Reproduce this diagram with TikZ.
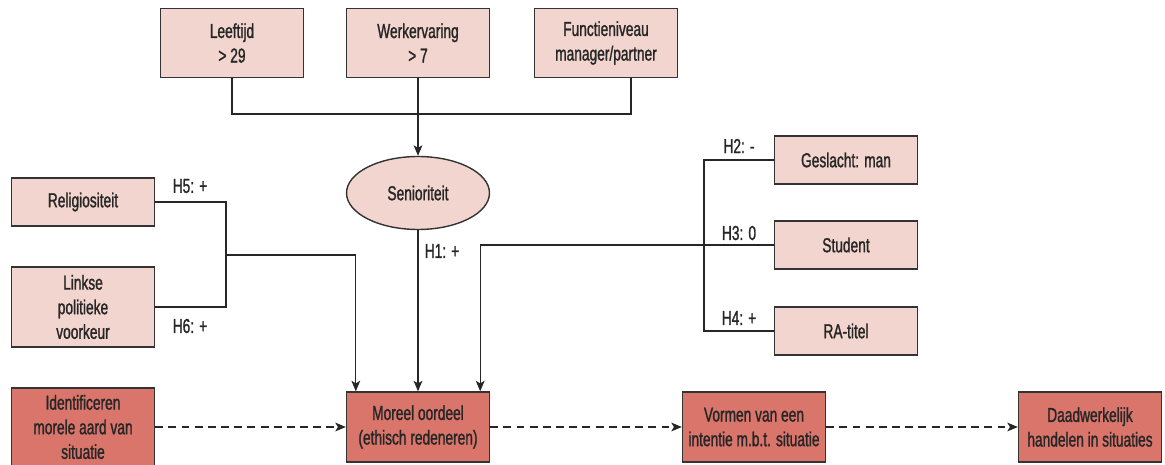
\documentclass[tikz,border=0pt]{standalone}
\usepackage{fontspec}
\setmainfont[FakeStretch=0.68,FakeBold=1.2]{Liberation Sans}
\usetikzlibrary{arrows.meta,shapes.geometric}
\definecolor{lichtrood}{HTML}{F2D5CE}
\definecolor{donkerrood}{HTML}{D9756A}

\begin{document}
\begin{tikzpicture}[x=0.02cm,y=-0.02cm,
	every node/.style={font=\fontsize{11.5}{14}\selectfont,text=black!85},
	kader/.style={draw=black!80,line width=0.8pt,fill=lichtrood,align=center,
		minimum width=2.86cm,inner sep=2pt},
	fase/.style={kader,fill=donkerrood,minimum height=1.4cm},
	lijn/.style={draw=black!85,line width=0.6pt},
	pijl/.style={lijn,-{Stealth[length=6pt,width=5pt,inset=1.5pt]}},
	streep/.style={pijl,dash pattern=on 4.5pt off 3pt}]
\useasboundingbox (0,0) rectangle (1165,465);

% bovenste rij
\node[kader,minimum height=1.38cm] (leeftijd) at (232,43) {Leeftijd\\> 29};
\node[kader,minimum height=1.38cm] (werk) at (418,43) {Werkervaring\\> 7};
\node[kader,minimum height=1.38cm] (functie) at (606,43) {Functieniveau\\manager/partner};
\node[kader,ellipse,minimum height=1.46cm,inner sep=0pt] (senior) at (418,193) {Senioriteit};

% links
\node[kader,minimum height=0.96cm] (relig) at (83,202) {Religiositeit};
\node[kader,minimum height=1.6cm] (links) at (83,307) {Linkse\\politieke\\voorkeur};

% rechts
\node[kader,minimum height=0.96cm] (geslacht) at (846,160) {Geslacht: man};
\node[kader,minimum height=0.96cm] (student) at (846,245) {Student};
\node[kader,minimum height=0.96cm] (ratitel) at (846,331) {RA-titel};

% onderste rij
\node[fase,minimum height=1.56cm] (ident) at (83,427) {Identificeren\\morele aard van\\situatie};
\node[fase] (moreel) at (418,427) {Moreel oordeel\\(ethisch redeneren)};
\node[fase] (intentie) at (754,427) {Vormen van een\\intentie m.b.t. situatie};
\node[fase] (handelen) at (1090,427) {Daadwerkelijk\\handelen in situaties};

\coordinate (knoop1) at (418,114);
\coordinate (knoop2) at (226,255);
\coordinate (knoop3) at (704,245);

\draw[lijn] (leeftijd.south) |- (knoop1) -| ([xshift=0.5cm]functie.south);
\draw[pijl] (werk) -- (senior);
\draw[pijl] (senior) -- (moreel);
\node (h1) at (442,251) {H1: +};

\draw[lijn] (relig.east) -| (knoop2) |- (links.east);
\draw[pijl] (knoop2) -| ([xshift=0.2cm]moreel.north west);
\node (h5) at (190,186) {H5: +};
\node (h6) at (190,326) {H6: +};

\draw[lijn] (geslacht.west) -| (knoop3) |- (ratitel.west);
\draw[pijl] (student.west) -| ([xshift=-0.2cm]moreel.north east);
\node (h2) at (739,146) {H2: -};
\node (h3) at (739,233) {H3: 0};
\node (h4) at (739,318) {H4: +};

\draw[streep] (ident) -- (moreel);
\draw[streep] (moreel) -- (intentie);
\draw[streep] (intentie) -- (handelen);
\end{tikzpicture}
\end{document}
